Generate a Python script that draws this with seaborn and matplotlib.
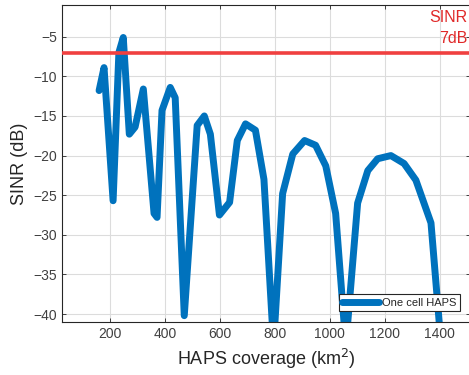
import matplotlib
matplotlib.use("Agg")
import matplotlib.pyplot as plt
import seaborn as sns
import pandas as pd

coverage = [160, 178, 211, 232, 248, 270, 291, 321, 360, 371, 389, 419, 437, 470,
            517, 543, 565, 598, 635, 663, 693, 729, 760, 795, 828, 865, 908, 948,
            985, 1021, 1058, 1101, 1138, 1174, 1222, 1270, 1313, 1368, 1405]
sinr = [-11.8, -8.9, -25.7, -7.0, -5.1, -17.3, -16.4, -11.6, -27.3, -27.8, -14.3, -11.4,
        -12.7, -40.2, -16.2, -15.0, -17.3, -27.5, -25.9, -18.1, -16.0, -16.8, -23.0,
        -44.0, -24.8, -19.8, -18.1, -18.7, -21.3, -27.3, -44.0, -26.0, -21.9, -20.4,
        -20.0, -21.0, -23.1, -28.5, -44.0]
threshold = -7
series_label = "One cell HAPS"

df = pd.DataFrame({"coverage": coverage, "sinr": sinr})

sns.set_style("whitegrid")
plt.rcParams["font.family"] = ["Liberation Sans", "DejaVu Sans"]

fig = plt.figure(figsize=(4.69, 3.75), dpi=100)
ax = fig.add_axes([62/469, 53/375, 408/469, 317/375])

sns.lineplot(data=df, x="coverage", y="sinr", ax=ax, color="#0072BD", linewidth=5.0,
             label=series_label, sort=False, solid_joinstyle="round")
ax.axhline(threshold, color="#F04040", linewidth=2.6, zorder=3)

ax.set_xlim(25, 1510)
ax.set_ylim(-41, -1)
ax.set_xticks([200, 400, 600, 800, 1000, 1200, 1400])
ax.set_yticks([-40, -35, -30, -25, -20, -15, -10, -5])
ax.grid(True, color="#DCDCDC", linewidth=0.8)
for s in ax.spines.values():
    s.set_visible(True)
    s.set_color("#262626")
    s.set_linewidth(0.8)
ax.tick_params(axis="both", direction="in", length=3, width=0.6, colors="#262626",
               labelsize=10, labelcolor="#404040", top=True, right=True, bottom=True, left=True)
ax.set_xlabel("HAPS coverage (km$^2$)", fontsize=13, color="#262626")
ax.set_ylabel("SINR (dB)", fontsize=13, color="#262626")

ax.text(1360, -2.6, "SINR", color="#E02828", fontsize=11.5, ha="left", va="center", clip_on=False)
ax.text(1398, -5.2, "7dB", color="#E02828", fontsize=11.5, ha="left", va="center", clip_on=False)

leg = ax.legend(loc="lower right", bbox_to_anchor=(0.975, 0.035), fontsize=8, frameon=True,
                fancybox=False, edgecolor="#262626", handlelength=3.3, borderpad=0.3,
                handletextpad=0.3, borderaxespad=0)
leg.get_frame().set_linewidth(0.8)
leg.get_frame().set_alpha(1)

fig.savefig("out.png", dpi=100)
